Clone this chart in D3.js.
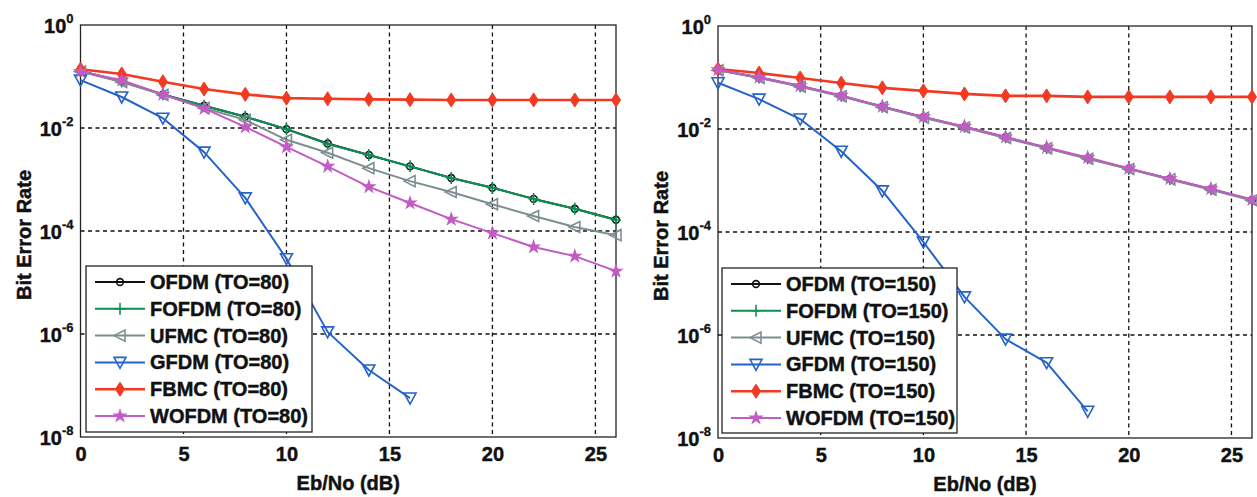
<!DOCTYPE html>
<html><head><meta charset="utf-8">
<script src="https://cdn.jsdelivr.net/npm/d3@7"></script>
<style>
body{margin:0;background:#fff;}
svg{display:block;font-family:"Liberation Sans",Arial,sans-serif;font-weight:bold;}
text{font-weight:bold;stroke:#111;stroke-width:0.45px;}
</style></head>
<body><svg id="c" width="1257" height="497"></svg>
<script>
// ---------- DATA ----------
const ebno = [0,2,4,6,8,10,12,14,16,18,20,22,24,26];
const xTicks = [0,5,10,15,20,25];
const yTickExps = [0,-2,-4,-6,-8];
const seriesNames = ["OFDM","FOFDM","UFMC","GFDM","FBMC","WOFDM"];

// Left panel: TO=80
const ofdm80  = [0.128,0.080,0.045,0.027,0.0165,0.0095,0.0050,0.0030,0.0018,0.00107,0.00069,0.00042,0.00027,0.000165];
const fofdm80 = [0.128,0.080,0.045,0.027,0.0165,0.0095,0.0049,0.0030,0.0018,0.00107,0.00069,0.00042,0.00027,0.000163];
const ufmc80  = [0.125,0.078,0.044,0.0245,0.0144,0.0059,0.0033,0.00166,0.00093,0.00057,0.00033,0.000195,0.00012,0.000083];
const gfdm80  = [0.085,0.040,0.0155,0.0034,0.00044,0.000029,0.0000011,0.0000002,0.000000057];
const fbmc80  = [0.138,0.112,0.079,0.057,0.045,0.038,0.037,0.036,0.0355,0.035,0.035,0.035,0.035,0.035];
const wofdm80 = [0.125,0.085,0.045,0.024,0.0105,0.0043,0.0018,0.00072,0.00035,0.00017,0.000091,0.000049,0.0000325,0.0000166];

// Right panel: TO=150
const ofdm150  = [0.140,0.100,0.068,0.044,0.027,0.017,0.011,0.0069,0.0043,0.0027,0.0017,0.00107,0.00068,0.00042];
const fofdm150 = [0.140,0.100,0.068,0.044,0.027,0.017,0.011,0.0069,0.0043,0.0027,0.0017,0.00107,0.00068,0.00042];
const ufmc150  = [0.138,0.098,0.066,0.043,0.0265,0.0165,0.0107,0.0067,0.0042,0.00265,0.00167,0.00105,0.00066,0.00041];
const gfdm150  = [0.079,0.038,0.0156,0.0037,0.00063,0.000064,0.0000055,0.00000083,0.00000029,0.000000033];
const fbmc150  = [0.146,0.122,0.098,0.078,0.063,0.055,0.048,0.044,0.044,0.042,0.042,0.042,0.042,0.042];
const wofdm150 = [0.141,0.101,0.069,0.045,0.0275,0.0172,0.0112,0.0070,0.0044,0.0028,0.00172,0.00108,0.00069,0.00043];

const colors = ["#111111","#0b8f55","#7d8e90","#2563c8","#f23a22","#c25cc4"];

const svg = d3.select("#c");

function markerPath(kind){
  switch(kind){
    case "circle": return d3.symbol(d3.symbolCircle, 36)();
    case "plus": return "M-5,0L5,0M0,-6L0,6";
    case "left": return "M-6,0L5,-5.5L5,5.5Z";
    case "down": return "M-6,-5L6,-5L0,6Z";
    case "diamond": return "M0,-7L4.5,0L0,7L-4.5,0Z";
    case "star": return d3.symbol(d3.symbolStar, 34)();
  }
}
const markers = ["circle","plus","left","down","diamond","star"];
const fills = [false,false,false,false,true,true];

function panel(opt){
  const g = svg.append("g");
  const x = d3.scaleLinear().domain([0,26]).range([opt.x0,opt.x1]);
  const y = d3.scaleLog().domain([1e-8,1]).range([opt.y1,opt.y0]);

  // grid
  const grid = g.append("g").attr("stroke","#111").attr("stroke-width",1.3).attr("stroke-dasharray","4,3.5");
  grid.selectAll(".gx").data(xTicks.filter(t=>t>0)).join("line")
    .attr("x1",d=>x(d)).attr("x2",d=>x(d)).attr("y1",opt.y0).attr("y2",opt.y1);
  grid.selectAll(".gy").data(yTickExps.filter(e=>e<0&&e>-8)).join("line")
    .attr("y1",d=>y(Math.pow(10,d))).attr("y2",d=>y(Math.pow(10,d))).attr("x1",opt.x0).attr("x2",opt.x1);

  // axes via d3
  const xa = d3.axisBottom(x).tickValues(xTicks).tickSize(0).tickPadding(10).tickFormat(d3.format("d"));
  const xg = g.append("g").attr("transform",`translate(0,${opt.y1})`).call(xa);
  xg.select(".domain").remove();
  xg.selectAll("text").attr("font-size",20).attr("font-weight","bold").attr("fill","#111").attr("font-family","Liberation Sans, Arial, sans-serif");

  const ya = d3.axisLeft(y).tickValues(yTickExps.map(e=>Math.pow(10,e))).tickSize(0).tickPadding(8).tickFormat("");
  const yg = g.append("g").attr("transform",`translate(${opt.x0},0)`).call(ya);
  yg.select(".domain").remove();
  yg.selectAll(".tick").each(function(d){
    const e = Math.round(Math.log10(d));
    const t = d3.select(this).append("text").attr("x",-7).attr("y",7)
      .attr("text-anchor","end").attr("fill","#111").attr("font-size",20);
    t.append("tspan").text("10");
    t.append("tspan").attr("dy",-10).attr("font-size",13).attr("style","stroke-width:0.3px").text(String(e));
  });

  // border
  g.append("rect").attr("x",opt.x0).attr("y",opt.y0).attr("width",opt.x1-opt.x0).attr("height",opt.y1-opt.y0)
    .attr("fill","none").attr("stroke","#222").attr("stroke-width",1.3);

  // axis labels
  g.append("text").attr("x",(opt.x0+opt.x1)/2).attr("y",opt.y1+53).attr("text-anchor","middle")
    .attr("font-size",20).attr("fill","#111").text("Eb/No (dB)");
  g.append("text").attr("transform",`translate(${opt.x0-50},${(opt.y0+opt.y1)/2+4}) rotate(-90)`)
    .attr("text-anchor","middle").attr("font-size",20).attr("fill","#111").text("Bit Error Rate");

  // series
  const clip = "clip"+opt.id;
  g.append("clipPath").attr("id",clip).append("rect").attr("x",opt.x0-8).attr("y",opt.y0-8)
    .attr("width",opt.x1-opt.x0+16).attr("height",opt.y1-opt.y0+16);
  const sg = g.append("g").attr("clip-path",`url(#${clip})`);
  const line = d3.line().x((d,i)=>x(ebno[i])).y(d=>y(d));
  opt.series.forEach((s,k)=>{
    const c = colors[k];
    sg.append("path").attr("d",line(s)).attr("fill","none").attr("stroke",c)
      .attr("stroke-width",k===4?2.6:2).attr("stroke-linejoin","round");
    sg.selectAll(null).data(s).join("path")
      .attr("transform",(d,i)=>`translate(${x(ebno[i])},${y(d)})`)
      .attr("d",markerPath(markers[k]))
      .attr("fill",fills[k]?c:"none").attr("stroke",c).attr("stroke-width",k===4?1:1.6);
  });

  // legend
  const L = opt.legend;
  const lg = g.append("g");
  lg.append("rect").attr("x",L.x).attr("y",L.y).attr("width",L.w).attr("height",L.h)
    .attr("fill","#fff").attr("stroke","#222").attr("stroke-width",1.3);
  seriesNames.forEach((n,k)=>{
    const cy = L.y+16+k*26.8;
    const c = colors[k];
    lg.append("line").attr("x1",L.x+9).attr("x2",L.x+59).attr("y1",cy).attr("y2",cy)
      .attr("stroke",c).attr("stroke-width",k===4?2.6:2);
    lg.append("path").attr("transform",`translate(${L.x+34},${cy})`).attr("d",markerPath(markers[k]))
      .attr("fill",fills[k]?c:"none").attr("stroke",c).attr("stroke-width",k===4?1:1.6);
    lg.append("text").attr("x",L.x+64).attr("y",cy+7).attr("font-size",20).attr("fill","#111")
      .text(`${n} (TO=${opt.to})`);
  });
}

panel({id:"a",x0:80.5,x1:616,y0:25,y1:437,to:80,
  series:[ofdm80,fofdm80,ufmc80,gfdm80,fbmc80,wofdm80],
  legend:{x:86,y:266,w:226,h:166}});
panel({id:"b",x0:718,x1:1252,y0:26,y1:438,to:150,
  series:[ofdm150,fofdm150,ufmc150,gfdm150,fbmc150,wofdm150],
  legend:{x:722,y:268,w:235,h:165}});
</script>
</body></html>
